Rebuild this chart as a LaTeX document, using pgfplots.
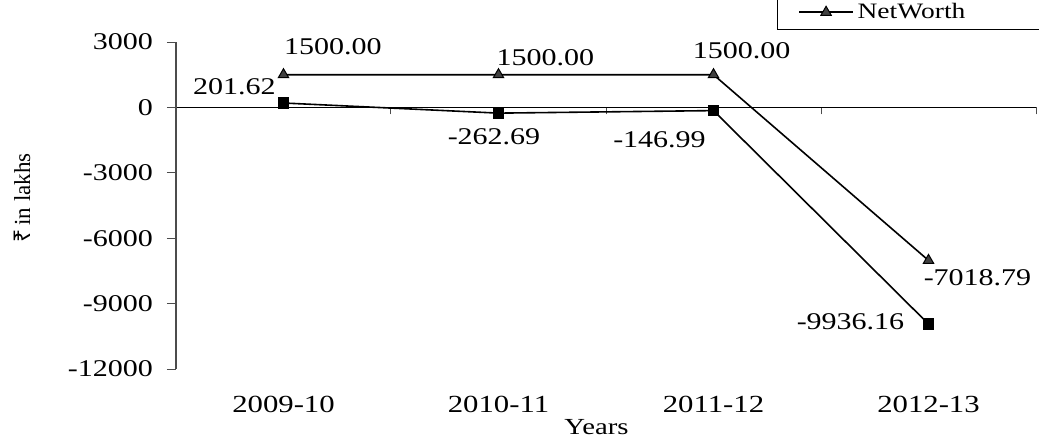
\documentclass[border=0pt]{standalone}
\usepackage{fontspec}
\setmainfont[FakeStretch=1.25]{Liberation Serif}
\newfontfamily\plainserif{Liberation Serif}
\newfontfamily\rupeefont{Noto Sans}
\usepackage{pgfplots}
\usepackage{pgfplotstable}
\pgfplotsset{compat=1.18}

% label offsets (dx, dy) in pt
\pgfplotstableread{
x y dx dy lab
0 201.62 -24.5 8.3 201.62
1 -262.69 -2.25 -11.6 -262.69
2 -146.99 -27 -14.4 -146.99
3 -9936.16 -39 1 -9936.16
}\netprofit

\pgfplotstableread{
x y dx dy lab
0 1500 24.75 14.1 1500.00
1 1500 23.5 8.6 1500.00
2 1500 14 12.1 1500.00
3 -7018.79 24.5 -8.5 -7018.79
}\networth

\begin{document}
\begin{tikzpicture}
\begin{axis}[
  scale only axis,
  width=430pt, height=163.5pt,
  xmin=-0.5, xmax=3.5,
  ymin=-12000, ymax=3000,
  axis y line=left, axis x line=middle,
  x axis line style={-, black, line width=0.6pt},
  y axis line style={-, black!70, line width=0.6pt},
  xtick={0,1,2,3},
  xticklabels={2009-10,2010-11,2011-12,2012-13},
  major x tick style={draw=none},
  minor xtick={-0.5,0.5,1.5,2.5,3.5},
  minor x tick style={black!70, line width=0.5pt},
  minor tick length=3.5pt,
  xtick align=outside,
  ytick={-12000,-9000,-6000,-3000,0,3000},
  scaled y ticks=false,
  ytick align=outside,
  major tick length=4.5pt,
  y tick style={black!70, line width=0.5pt},
  /pgf/number format/1000 sep={},
  /pgf/number format/assume math mode=true,
  yticklabel style={font=\fontsize{12}{14}\selectfont, xshift=-3.5pt},
  xticklabel style={font=\fontsize{12.3}{14}\selectfont, anchor=center, yshift=-144pt},
  xlabel={Years},
  xlabel style={font=\fontsize{11.5}{13}\selectfont, at={(axis description cs:0.489,-0.1786)}, anchor=center},
  ylabel={{\rupeefont ₹}\,{\plainserif in lakhs}},
  ylabel style={font=\fontsize{11.5}{13}\selectfont, at={(axis description cs:-0.179,0.523)}, anchor=center, rotate=0},
  legend style={at={(axis description cs:0.699,1.0367)}, anchor=south west,
    draw=black, line width=0.6pt, font=\fontsize{11}{13}\selectfont,
    nodes={text width=95pt, align=left}, row sep=1pt},
  legend cell align=left,
  legend image code/.code={\path (0cm,0cm); \draw[mark repeat=2, mark phase=2] plot coordinates {(0.26cm,0cm) (0.73cm,0cm) (1.2cm,0cm)};},
  nodes near coords={\pgfplotspointmeta},
  point meta=explicit symbolic,
  visualization depends on={\thisrow{dx} \as \dx},
  visualization depends on={\thisrow{dy} \as \dy},
  nodes near coords style={font=\fontsize{12}{14}\selectfont, anchor=center, xshift=\dx pt, yshift=\dy pt, text=black},
  clip=false,
]
\addplot[black, line width=0.8pt, mark=square*, mark size=2.5pt, mark options={fill=black}]
  table[x=x, y=y, meta=lab] {\netprofit};
\addlegendentry{}
\addplot[black, line width=0.8pt, mark=triangle*, mark size=3pt, mark options={fill=black!75, line width=0.5pt}]
  table[x=x, y=y, meta=lab] {\networth};
\addlegendentry{NetWorth}
\end{axis}
\pgfresetboundingbox
\path[use as bounding box] (-88pt,-35.5pt) rectangle (431.5pt,184.5pt);
\end{tikzpicture}
\end{document}
